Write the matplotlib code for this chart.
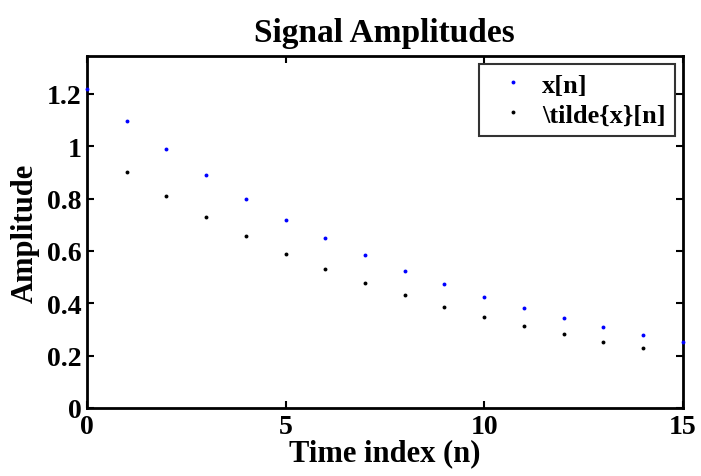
import matplotlib
matplotlib.use("Agg")
import matplotlib.pyplot as plt

n_x = [0, 1, 2, 3, 4, 5, 6, 7, 8, 9, 10, 11, 12, 13, 14, 15]
x_vals = [1.22, 1.098, 0.988, 0.889, 0.800, 0.720, 0.648, 0.584, 0.525, 0.473,
          0.425, 0.383, 0.345, 0.310, 0.279, 0.251]
n_t = [1, 2, 3, 4, 5, 6, 7, 8, 9, 10, 11, 12, 13, 14]
t_vals = [0.900, 0.810, 0.729, 0.656, 0.590, 0.531, 0.478, 0.430, 0.387, 0.349,
          0.314, 0.282, 0.254, 0.229]
xticks = [0, 5, 10, 15]
yticks = [0, 0.2, 0.4, 0.6, 0.8, 1.0, 1.2]
ytick_labels = ["0", "0.2", "0.4", "0.6", "0.8", "1", "1.2"]

plt.rcParams['font.family'] = ['Liberation Serif', 'DejaVu Serif']
plt.rcParams['font.weight'] = 'bold'

fig = plt.figure(figsize=(7.01, 4.77), dpi=100)
ax = fig.add_axes([0.124, 0.1426, 0.850, 0.738])

ax.plot(n_x, x_vals, linestyle='none', marker='o', ms=2.8, mew=0, color='#0000ff',
        label='x[n]', clip_on=False, zorder=5)
ax.plot(n_t, t_vals, linestyle='none', marker='o', ms=2.8, mew=0, color='black',
        label=r'\tilde{x}[n]', clip_on=False, zorder=5)

ax.set_xlim(0, 15)
ax.set_ylim(0, 1.345)
ax.set_xticks(xticks)
ax.set_xticklabels([str(v) for v in xticks])
ax.set_yticks(yticks)
ax.set_yticklabels(ytick_labels)
ax.tick_params(direction='in', length=5, width=1.5, labelsize=20, top=True, right=True, pad=4)
for lab in ax.get_xticklabels() + ax.get_yticklabels():
    lab.set_fontweight('bold')
for s in ax.spines.values():
    s.set_linewidth(2)

ax.set_title('Signal Amplitudes', fontsize=24, fontweight='bold', pad=11)
ax.set_xlabel('Time index (n)', fontsize=22, fontweight='bold', labelpad=0)
ax.set_ylabel('Amplitude', fontsize=22, fontweight='bold', labelpad=5)

leg = ax.legend(loc='upper right', fontsize=19, frameon=True, fancybox=False,
                edgecolor='black', handlelength=1.9, handletextpad=0.15,
                borderpad=0.35, labelspacing=0.25, borderaxespad=0.3, markerscale=1.0)
leg.get_frame().set_linewidth(1.5)
for t in leg.get_texts():
    t.set_fontweight('bold')

fig.savefig('out.png', dpi=100)
